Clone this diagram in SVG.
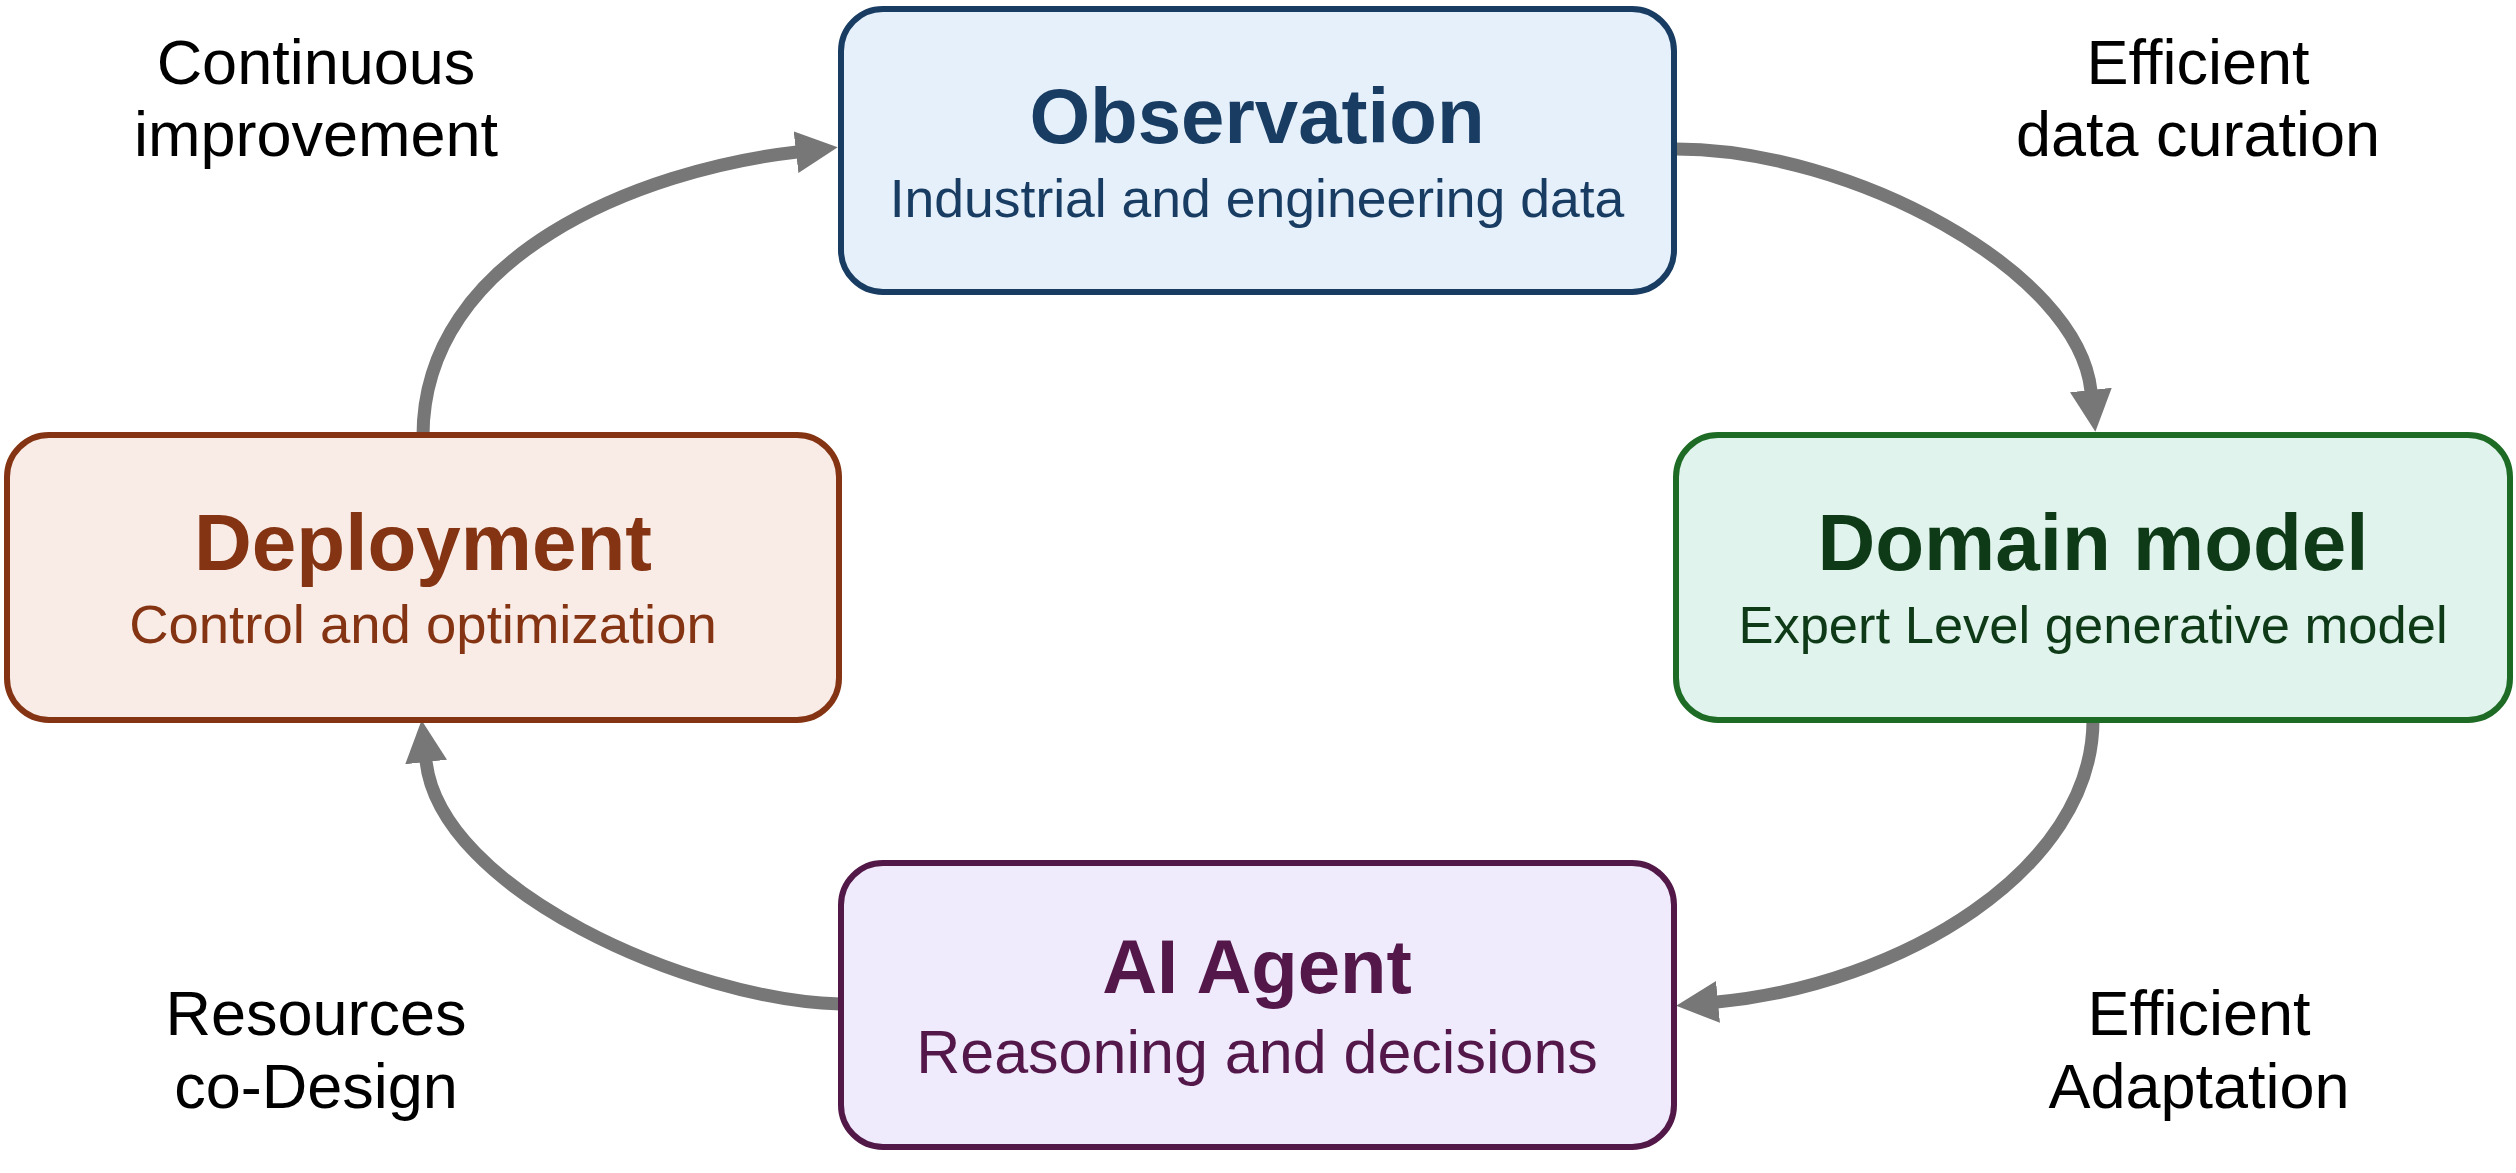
<svg xmlns="http://www.w3.org/2000/svg" width="2516" height="1173" viewBox="0 0 2516 1173">
<style>
.box{stroke-width:6}
.title{font-family:"Liberation Sans",Arial,sans-serif;font-weight:bold;text-anchor:middle}
.sub{font-family:"Liberation Sans",Arial,sans-serif;text-anchor:middle}
.lbl{font-family:"Liberation Sans",Arial,sans-serif;font-size:63px;fill:#000;text-anchor:middle}
.conn{fill:none;stroke:#777777;stroke-width:13;marker-end:url(#ah)}
</style>
<defs>
<marker id="ah" viewBox="0 0 42 42" markerUnits="userSpaceOnUse" markerWidth="42" markerHeight="42" refX="1" refY="21" orient="auto">
<path d="M0,0 L42,21 L0,42 Z" fill="#777777"/>
</marker>
</defs>
<rect width="2516" height="1173" fill="#ffffff"/>
<g id="connectors">
<path class="conn" d="M 423 436 C 423 255 640 170 797 152"/>
<path class="conn" d="M 1676 149 C 1850 149 2078 270 2091 391"/>
<path class="conn" d="M 2093 720 C 2093 870 1900 985 1717 1002"/>
<path class="conn" d="M 840 1004 C 690 1000 440 890 426 761"/>
</g>
<g id="observation">
<rect class="box" x="841" y="9" width="833" height="283" rx="42" fill="#e5f0fb" stroke="#183c62"/>
<text class="title" x="1257" y="143" font-size="78" fill="#183c62">Observation</text>
<text class="sub" x="1257" y="217" font-size="53.5" fill="#183c62">Industrial and engineering data</text>
</g>
<g id="domain-model">
<rect class="box" x="1676" y="435" width="834" height="285" rx="42" fill="#e0f4ed" stroke="#1e6b25"/>
<text class="title" x="2093" y="570" font-size="80" fill="#0f3a17">Domain model</text>
<text class="sub" x="2093" y="643" font-size="52.5" fill="#0f3a17">Expert Level generative model</text>
</g>
<g id="ai-agent">
<rect class="box" x="841" y="863" width="833" height="284" rx="42" fill="#efebfc" stroke="#521848"/>
<text class="title" x="1257" y="993" font-size="76" fill="#53174a">AI Agent</text>
<text class="sub" x="1257" y="1073" font-size="61" fill="#53174a">Reasoning and decisions</text>
</g>
<g id="deployment">
<rect class="box" x="7" y="435" width="832" height="285" rx="42" fill="#f9ece7" stroke="#843412"/>
<text class="title" x="423" y="570" font-size="80" fill="#843412">Deployment</text>
<text class="sub" x="423" y="643" font-size="54.5" fill="#843412">Control and optimization</text>
</g>
<g id="labels">
<text class="lbl" x="316" y="84">Continuous</text>
<text class="lbl" x="316" y="156">improvement</text>
<text class="lbl" x="2198" y="84">Efficient</text>
<text class="lbl" x="2198" y="156">data curation</text>
<text class="lbl" x="316" y="1035">Resources</text>
<text class="lbl" x="316" y="1108">co-Design</text>
<text class="lbl" x="2199" y="1035">Efficient</text>
<text class="lbl" x="2199" y="1108">Adaptation</text>
</g>
</svg>
